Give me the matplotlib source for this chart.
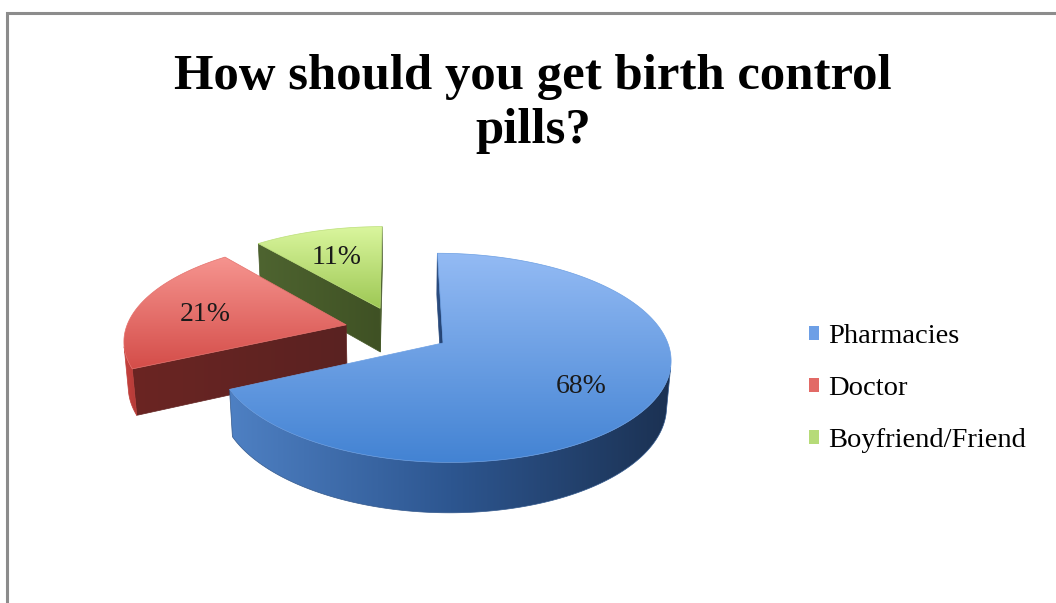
import numpy as np
import matplotlib
matplotlib.use("Agg")
import matplotlib.pyplot as plt
from matplotlib.patches import Polygon, Patch
from matplotlib.colors import to_rgb

title = "How should you get birth control\npills?"
labels = ["Pharmacies", "Doctor", "Boyfriend/Friend"]
shares = [68, 21, 11]

# (back, front) colours of the top faces
top_colors = [("#94bbf4", "#4383d3"), ("#f6948f", "#d44d49"), ("#daf69e", "#9ec855")]
# left -> right colours of the curved walls
wall_colors = [("#4e80c3", "#2d5690", "#1b3152"),
               ("#c9433f", "#b23a37"),
               ("#8fb54c", "#7a9c40")]
# colours of the flat cut faces
cut_colors = [("#2c4f84", "#223f6b"), ("#6b2523", "#5a2221"), ("#4e6430", "#3f5124")]
key_colors = ["#6d9fe6", "#e26a66", "#b6db78"]

W, H = 1056, 603

# simple perspective camera
DIST = 6.39
TILT = np.radians(26.6)
FOCAL = 1410
U0, V0 = 397.5, 330
EXPLODE = 0.24
DEPTH = 0.23
CAM = np.array([0.0, -DIST * np.cos(TILT), DIST * np.sin(TILT)])


def project(x, y, z):
    c, s = np.cos(TILT), np.sin(TILT)
    d = DIST + y * c - z * s
    return U0 + FOCAL * x / d, V0 - FOCAL * (y * s + z * c) / d


def facing(point, normal):
    return np.dot(CAM - point, normal) > 0


zc = [0]


def gradient_fill(ax, xs, ys, stops, axis="y"):
    xs, ys = np.asarray(xs), np.asarray(ys)
    zc[0] += 1
    rgb = np.array([to_rgb(c) for c in stops])
    t = np.linspace(0, 1, 256)
    pos = np.linspace(0, 1, len(stops))
    ramp = np.stack([np.interp(t, pos, rgb[:, k]) for k in range(3)], axis=-1)
    img = ramp[:, None, :] if axis == "y" else ramp[None, :, :]
    poly = Polygon(np.column_stack([xs, ys]), closed=True,
                   facecolor="none", edgecolor=rgb.mean(axis=0), lw=0.5,
                   zorder=zc[0] + 0.5)
    ax.add_patch(poly)
    im = ax.imshow(img, extent=(xs.min(), xs.max(), ys.max(), ys.min()),
                   origin="upper", aspect="auto", interpolation="bilinear",
                   zorder=zc[0])
    im.set_clip_path(poly)


fig = plt.figure(figsize=(W / 100, H / 100), dpi=100)
ax = fig.add_axes([0, 0, 1, 1])

fracs = np.array(shares) / sum(shares)
bounds = 90 - 360 * np.concatenate([[0], np.cumsum(fracs)])

wedges = []
for i in range(len(shares)):
    a0, a1 = bounds[i], bounds[i + 1]
    mid = np.radians((a0 + a1) / 2)
    off = EXPLODE * np.array([np.cos(mid), np.sin(mid), 0.0])
    wedges.append((i, a0, a1, mid, off))

# paint back to front
for i, a0, a1, mid, off in sorted(wedges, key=lambda w: -w[4][1]):
    th = np.radians(np.linspace(a0, a1, 300))
    rx, ry = off[0] + np.cos(th), off[1] + np.sin(th)

    # flat cut faces
    for ang, turn in ((a0, 90), (a1, -90)):
        r = np.radians(ang)
        n = np.array([np.cos(r + np.radians(turn)), np.sin(r + np.radians(turn)), 0])
        ex, ey = off[0] + np.cos(r), off[1] + np.sin(r)
        centre = np.array([(off[0] + ex) / 2, (off[1] + ey) / 2, -DEPTH / 2])
        if not facing(centre, n):
            continue
        X = np.array([off[0], ex, ex, off[0]])
        Y = np.array([off[1], ey, ey, off[1]])
        Z = np.array([0, 0, -DEPTH, -DEPTH])
        u, v = project(X, Y, Z)
        gradient_fill(ax, u, v, cut_colors[i], axis="x")

    # curved outer wall, only where it faces the camera
    vis = np.array([facing(np.array([x, y, -DEPTH / 2]),
                           np.array([np.cos(t), np.sin(t), 0]))
                    for x, y, t in zip(rx, ry, th)])
    idx = np.flatnonzero(vis)
    if idx.size > 1:
        runs = np.split(idx, np.flatnonzero(np.diff(idx) > 1) + 1)
        for run in runs:
            if run.size < 2:
                continue
            ut, vt = project(rx[run], ry[run], 0)
            ub, vb = project(rx[run], ry[run], -DEPTH)
            gradient_fill(ax, np.r_[ut, ub[::-1]], np.r_[vt, vb[::-1]],
                          wall_colors[i], axis="x")

    # top face
    ut, vt = project(np.r_[off[0], rx], np.r_[off[1], ry], 0)
    gradient_fill(ax, ut, vt, top_colors[i], axis="y")

    # percentage label
    lu, lv = project(off[0] + 0.68 * np.cos(mid), off[1] + 0.68 * np.sin(mid), 0)
    ax.text(lu, lv + 4, f"{shares[i]}%", ha="center", va="center",
            fontsize=20, family="Liberation Serif", color="#1a1a1a", zorder=100)

ax.text(533, 54, title, ha="center", va="top", fontsize=36.5,
        family="Liberation Serif", fontweight="bold", linespacing=1.22,
        color="black")

handles = [Patch(facecolor=c, edgecolor="none") for c in key_colors]
ax.legend(handles, labels, loc="center left", bbox_to_anchor=(0.755, 0.355),
          frameon=False, prop={"family": "Liberation Serif", "size": 20.5},
          handlelength=0.38, handleheight=0.38, handletextpad=0.3,
          labelspacing=0.95, borderaxespad=0)

# frame lines along top and left edges
ax.plot([6.5, 6.5, W + 10], [H + 10, 13, 13], color="#8c8c8c", lw=2.2,
        solid_joinstyle="miter")

ax.set_xlim(0, W)
ax.set_ylim(H, 0)
ax.axis("off")
fig.savefig("out.png", dpi=100)
